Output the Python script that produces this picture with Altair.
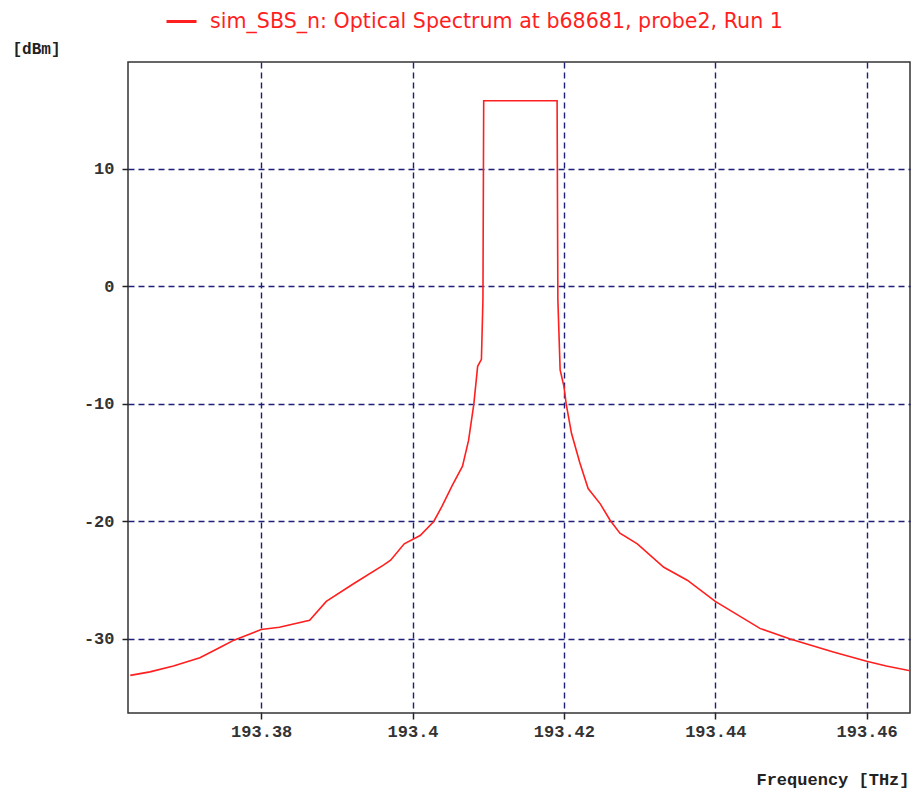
import altair as alt
import pandas as pd

# Frequency [THz] and power [dBm]
freq = [193.3627, 193.3653, 193.3684, 193.3719, 193.3746, 193.3764, 193.3800,
        193.3824, 193.3864, 193.3886, 193.3922, 193.3962, 193.3971, 193.3989,
        193.4010, 193.4028, 193.4039, 193.4052, 193.4066, 193.4074, 193.4081,
        193.4086, 193.4091, 193.4093, 193.4094, 193.4191, 193.4192, 193.4195,
        193.4200, 193.4203, 193.4210, 193.4221, 193.4232, 193.4248, 193.4261,
        193.4274, 193.4297, 193.4332, 193.4363, 193.4400, 193.4459, 193.4499,
        193.4556, 193.4600, 193.4626, 193.4665]
power = [-33.1, -32.8, -32.3, -31.6, -30.7, -30.1, -29.2,
         -29.0, -28.4, -26.8, -25.3, -23.7, -23.3, -21.9,
         -21.2, -20.0, -18.7, -17.0, -15.3, -13.1, -10.0,
         -6.8, -6.2, -1.1, 15.8, 15.8, -1.1, -7.1,
         -8.5, -10.0, -12.5, -15.0, -17.2, -18.5, -19.9,
         -21.0, -21.9, -23.9, -25.0, -26.8, -29.1, -30.0,
         -31.1, -31.9, -32.3, -32.8]
series_name = "sim_SBS_n: Optical Spectrum at b68681, probe2, Run 1"

x_ticks = [193.38, 193.40, 193.42, 193.44, 193.46]
y_ticks = [-30, -20, -10, 0, 10]
x_domain = [193.3624, 193.46573]
y_domain = [-36.3, 19.1]

df = pd.DataFrame({"f": freq, "p": power, "series": [series_name] * len(freq)})

RED = "#ff1f1f"
GRID = "#1f1f7a"
MONO = "Liberation Mono"

chart = alt.Chart(df).mark_line(color=RED, strokeWidth=1.6, clip=True, interpolate="linear").encode(
    x=alt.X("f:Q",
            scale=alt.Scale(domain=x_domain, nice=False, zero=False),
            axis=alt.Axis(values=x_ticks,
                          labelExpr="toString(round(datum.value*100)/100)",
                          title="Frequency [THz]",
                          titleAnchor="end", titleAlign="right",
                          titleX=781, titleY=66, titleBaseline="middle",
                          titleFont=MONO, titleFontSize=17, titleFontWeight="bold",
                          titleColor="#222")),
    y=alt.Y("p:Q",
            scale=alt.Scale(domain=y_domain, nice=False, zero=False),
            axis=alt.Axis(values=y_ticks,
                          labelExpr="toString(datum.value)",
                          title="[dBm]", titleAngle=0,
                          titleAlign="left", titleBaseline="middle",
                          titleX=-116, titleY=-14,
                          titleFont=MONO, titleFontSize=16, titleFontWeight="bold",
                          titleColor="#222")),
    color=alt.Color("series:N",
                    scale=alt.Scale(range=[RED]),
                    legend=alt.Legend(orient="none", legendX=37, legendY=-57,
                                      title=None, symbolType="stroke",
                                      symbolSize=900, symbolStrokeWidth=3,
                                      labelFont="DejaVu Sans", labelFontSize=20.6,
                                      labelColor=RED, labelLimit=0, labelOffset=12,
                                      padding=0)),
).properties(
    width=782, height=651,
    autosize=alt.AutoSizeParams(type="none"),
    padding={"left": 120, "top": 54, "right": 1, "bottom": 76},
).configure_view(
    stroke="#333333", strokeWidth=1.5
).configure_axis(
    grid=True, gridColor=GRID, gridDash=[6, 4], gridWidth=1.4, gridOpacity=1,
    domain=False,
    ticks=True, tickColor="#222", tickSize=6, tickWidth=1.5,
    labelFont=MONO, labelFontSize=17, labelFontWeight="bold", labelColor="#333",
).configure_axisX(
    labelPadding=4
).configure_axisY(
    labelPadding=8
)

chart.save("out.html", embed_options={"renderer": "svg", "actions": False})
